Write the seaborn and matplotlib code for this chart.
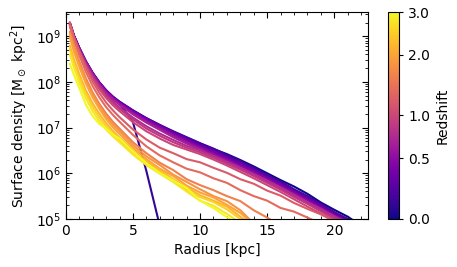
import numpy as np
import pandas as pd
import matplotlib
matplotlib.use("Agg")
import matplotlib.pyplot as plt
import matplotlib.colors as mcolors
import seaborn as sns

# radial bins [kpc]
radius = [0.3, 0.6, 1.0, 1.5, 2.0, 2.5, 3.0, 3.5, 4.0, 5, 6, 7, 8, 9, 10,
          11, 12, 13, 14, 15, 16, 17, 18, 19, 20, 21, 22]

redshift = [0.0, 0.1, 0.15, 0.25, 0.35, 0.45, 0.55, 0.65, 0.75, 0.85, 1.0,
            1.2, 1.35, 1.6, 1.8, 2.0, 2.2, 2.5, 2.75, 3.0]

# log10 surface density per snapshot
log_sigma = [
    [9.28, 9.01, 8.74, 8.44, 8.19, 7.98, 7.81, 7.67, 7.56, 7.37, 7.20, 7.05, 6.91, 6.78, 6.65, 6.53, 6.42, 6.29, 6.15, 6.00, 5.85, 5.71, 5.55, 5.36, 5.20, 5.05, 4.85],
    [9.27, 9.00, 8.73, 8.43, 8.18, 7.97, 7.80, 7.66, 7.53, 7.12, 6.05, 4.85],
    [9.30, 9.02, 8.75, 8.45, 8.20, 7.99, 7.82, 7.68, 7.57, 7.38, 7.21, 7.06, 6.92, 6.79, 6.66, 6.54, 6.40, 6.27, 6.12, 5.96, 5.82, 5.65, 5.50, 5.33, 5.15, 5.00, 4.82],
    [9.29, 9.02, 8.75, 8.45, 8.20, 7.99, 7.82, 7.68, 7.56, 7.37, 7.20, 7.05, 6.90, 6.77, 6.63, 6.51, 6.37, 6.23, 6.09, 5.93, 5.79, 5.63, 5.46, 5.31, 5.13, 4.97],
    [9.30, 9.02, 8.74, 8.44, 8.19, 7.98, 7.81, 7.67, 7.55, 7.36, 7.19, 7.03, 6.88, 6.74, 6.60, 6.47, 6.34, 6.20, 6.05, 5.90, 5.75, 5.60, 5.44, 5.28, 5.10, 4.95],
    [9.28, 9.01, 8.74, 8.44, 8.19, 7.98, 7.80, 7.66, 7.54, 7.34, 7.17, 7.01, 6.86, 6.71, 6.57, 6.44, 6.31, 6.17, 6.03, 5.88, 5.72, 5.57, 5.41, 5.24, 5.07, 4.92],
    [9.27, 9.00, 8.73, 8.43, 8.18, 7.96, 7.78, 7.64, 7.52, 7.32, 7.14, 6.98, 6.83, 6.68, 6.55, 6.41, 6.28, 6.14, 5.99, 5.84, 5.69, 5.54, 5.37, 5.21, 5.04, 4.90],
    [9.26, 8.99, 8.72, 8.42, 8.16, 7.94, 7.76, 7.62, 7.50, 7.29, 7.11, 6.95, 6.79, 6.65, 6.52, 6.38, 6.25, 6.11, 5.96, 5.81, 5.66, 5.50, 5.34, 5.18, 5.01, 4.88],
    [9.25, 8.97, 8.70, 8.39, 8.13, 7.91, 7.72, 7.57, 7.44, 7.22, 7.03, 6.87, 6.73, 6.60, 6.50, 6.38, 6.25, 6.12, 5.98, 5.84, 5.69, 5.53, 5.37, 5.22, 5.06, 4.92],
    [9.24, 8.96, 8.68, 8.37, 8.10, 7.88, 7.69, 7.54, 7.41, 7.18, 6.98, 6.82, 6.68, 6.56, 6.46, 6.34, 6.21, 6.08, 5.94, 5.79, 5.64, 5.48, 5.33, 5.17, 5.02, 4.88],
    [9.28, 8.98, 8.68, 8.35, 8.07, 7.84, 7.65, 7.49, 7.36, 7.12, 6.92, 6.76, 6.62, 6.52, 6.42, 6.30, 6.17, 6.03, 5.89, 5.74, 5.59, 5.43, 5.27, 5.12, 4.97],
    [9.30, 8.99, 8.67, 8.31, 8.01, 7.76, 7.55, 7.38, 7.23, 6.96, 6.74, 6.56, 6.44, 6.31, 6.24, 6.12, 6.01, 5.87, 5.77, 5.62, 5.51, 5.35, 5.22, 5.10, 4.95],
    [9.22, 8.92, 8.59, 8.22, 7.91, 7.66, 7.45, 7.28, 7.13, 6.84, 6.59, 6.39, 6.24, 6.10, 6.02, 5.89, 5.79, 5.63, 5.50, 5.40, 5.24, 5.16, 5.03, 4.90],
    [9.10, 8.80, 8.46, 8.08, 7.77, 7.52, 7.31, 7.13, 6.98, 6.68, 6.44, 6.23, 6.07, 5.87, 5.74, 5.63, 5.50, 5.39, 5.19, 5.03, 4.85],
    [9.07, 8.76, 8.41, 8.03, 7.72, 7.47, 7.25, 7.07, 6.92, 6.62, 6.37, 6.18, 5.97, 5.81, 5.65, 5.50, 5.39, 5.19, 4.90],
    [8.98, 8.67, 8.33, 7.96, 7.66, 7.41, 7.19, 7.01, 6.86, 6.56, 6.31, 6.10, 5.94, 5.73, 5.58, 5.47, 5.31, 5.13, 4.88],
    [8.80, 8.50, 8.17, 7.81, 7.53, 7.30, 7.10, 6.93, 6.78, 6.50, 6.26, 6.07, 5.87, 5.69, 5.52, 5.40, 5.27, 5.05, 4.85],
    [8.72, 8.42, 8.08, 7.73, 7.45, 7.22, 7.03, 6.87, 6.73, 6.45, 6.21, 6.03, 5.85, 5.63, 5.48, 5.37, 5.21, 5.00, 4.85],
    [8.60, 8.32, 7.99, 7.64, 7.36, 7.14, 6.96, 6.81, 6.68, 6.41, 6.18, 5.99, 5.81, 5.60, 5.40, 5.29, 5.11, 4.92],
    [8.40, 8.16, 7.87, 7.50, 7.25, 7.08, 6.98, 6.85, 6.76, 6.48, 6.22, 6.00, 5.84, 5.68, 5.40, 5.24, 5.04, 4.85],
]

rows = []
for z, prof in zip(redshift, log_sigma):
    for r, s in zip(radius, prof):
        rows.append({'Radius': r, 'Sigma': 10 ** s, 'z': z})
df = pd.DataFrame(rows)

sns.set_style("ticks", {"axes.edgecolor": "black", "xtick.color": "black",
                        "ytick.color": "black", "text.color": "black",
                        "axes.labelcolor": "black"})
plt.rcParams['font.family'] = ['DejaVu Sans']
plt.rcParams['font.size'] = 10

# colour scale in log(1+z)
norm = mcolors.FuncNorm((lambda z: np.log10(1 + np.asarray(z)),
                         lambda v: 10 ** np.asarray(v) - 1), vmin=0, vmax=3)

fig = plt.figure(figsize=(4.57, 2.67), dpi=100)
ax = fig.add_axes([0.144, 0.18, 0.661, 0.775])
cax = fig.add_axes([0.849, 0.18, 0.024, 0.775])

sns.lineplot(data=df, x='Radius', y='Sigma', hue='z', units='z', estimator=None,
             palette='plasma', hue_norm=norm, linewidth=1.5, legend=False,
             sort=False, ax=ax)

ax.set_yscale('log')
ax.set_xlim(0, 22.5)
ax.set_ylim(1e5, 3.4e9)
ax.set_xticks([0, 5, 10, 15, 20])
ax.xaxis.set_minor_locator(matplotlib.ticker.MultipleLocator(1))
ax.tick_params(which='both', direction='in', top=True, right=True, labelsize=10)
ax.tick_params(which='major', length=4)
ax.tick_params(which='minor', length=2)
ax.set_xlabel('Radius [kpc]', fontsize=10)
ax.set_ylabel(r'Surface density [M$_\odot$ kpc$^2$]', fontsize=10)

sm = matplotlib.cm.ScalarMappable(norm=norm, cmap='plasma')
cb = fig.colorbar(sm, cax=cax)
cb.set_ticks([0.0, 0.5, 1.0, 2.0, 3.0])
cb.set_ticklabels(['0.0', '0.5', '1.0', '2.0', '3.0'])
cb.ax.tick_params(labelsize=10, length=3)
cb.ax.minorticks_off()
cb.set_label('Redshift', fontsize=10)

fig.savefig('out.png', dpi=100)
